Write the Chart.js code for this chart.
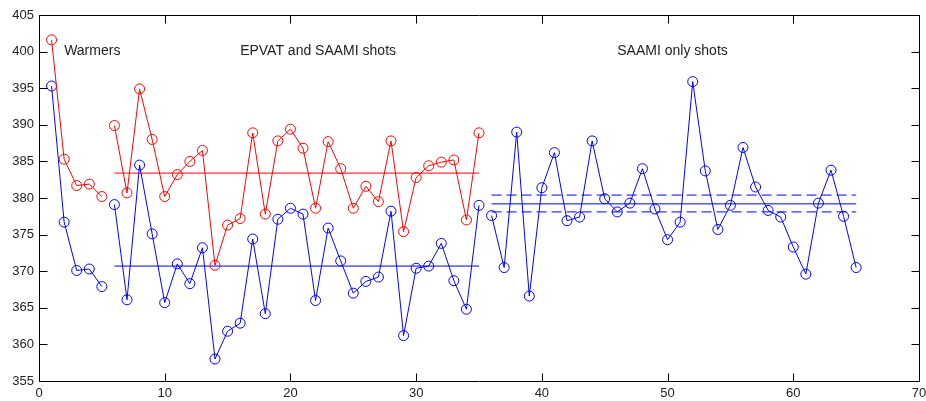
<!DOCTYPE html>
<html>
<head>
<meta charset="utf-8">
<script src="https://cdn.jsdelivr.net/npm/chart.js@4"></script>
<style>
    html, body { margin: 0; padding: 0; background: #fff; }
    canvas { display: block; }
</style>
</head>
<body>
<canvas id="velocityChart" width="926" height="401"></canvas>
<script>
// Номера выстрелов по группам
const warmerShots = [1, 2, 3, 4, 5];
const mainShots = [6, 7, 8, 9, 10, 11, 12, 13, 14, 15, 16, 17, 18, 19, 20,
    21, 22, 23, 24, 25, 26, 27, 28, 29, 30, 31, 32, 33, 34, 35];
const saamiShots = [36, 37, 38, 39, 40, 41, 42, 43, 44, 45, 46, 47, 48, 49, 50,
    51, 52, 53, 54, 55, 56, 57, 58, 59, 60, 61, 62, 63, 64, 65];

// Красная серия
const redWarmers = [401.6, 385.3, 381.7, 381.9, 380.2];
const redMain = [389.9, 380.7, 394.9, 388.0, 380.2, 383.2, 385.0, 386.5, 370.8, 376.3,
    377.2, 388.9, 377.8, 387.8, 389.4, 386.8, 378.6, 387.7, 384.0, 378.6,
    381.6, 379.5, 387.8, 375.4, 382.8, 384.4, 384.9, 385.2, 377.0, 388.9];

// Синяя серия
const blueWarmers = [395.3, 376.7, 370.1, 370.3, 367.9];
const blueMain = [379.1, 366.1, 384.5, 375.1, 365.7, 371.0, 368.3, 373.2, 358.0, 361.8,
    362.9, 374.4, 364.2, 377.1, 378.6, 377.8, 366.0, 375.9, 371.4, 367.0,
    368.6, 369.2, 378.2, 361.2, 370.4, 370.7, 373.8, 368.7, 364.8, 379.0];
const blueSaami = [377.6, 370.5, 389.0, 366.6, 381.4, 386.2, 376.9, 377.4, 387.8, 379.9,
    378.1, 379.3, 384.0, 378.5, 374.3, 376.7, 395.9, 383.7, 375.7, 379.0,
    386.9, 381.5, 378.3, 377.4, 373.3, 369.6, 379.3, 383.8, 377.5, 370.5];

// Средние линии
const redMeanMain = 383.4;
const blueMeanMain = 370.7;
const blueMeanSaami = 379.2;
const blueSaamiBand = [378.1, 380.4];

// Подписи
const annotations = [
    { x: 2, y: 400, text: 'Warmers' },
    { x: 16, y: 400, text: 'EPVAT and SAAMI shots' },
    { x: 46, y: 400, text: 'SAAMI only shots' }
];

const xTicks = [0, 10, 20, 30, 40, 50, 60, 70];
const yTicks = [355, 360, 365, 370, 375, 380, 385, 390, 395, 400, 405];

const RED = '#ff0000';
const BLUE = '#0000ff';
const FONT = '"Liberation Sans", Arial, sans-serif';

function toPoints(xs, ys) {
    return xs.map((x, i) => ({ x: x, y: ys[i] }));
}

function markerSeries(xs, ys, color) {
    return {
        data: toPoints(xs, ys),
        showLine: true,
        borderColor: color,
        borderWidth: 1,
        backgroundColor: 'transparent',
        pointBorderColor: color,
        pointBackgroundColor: 'transparent',
        pointRadius: 5,
        pointHoverRadius: 5,
        pointBorderWidth: 1
    };
}

function levelLine(fromX, toX, value, color, dashed) {
    return {
        data: [{ x: fromX, y: value }, { x: toX, y: value }],
        showLine: true,
        borderColor: color,
        borderWidth: 1,
        borderDash: dashed ? [10, 5] : [],
        pointRadius: 0,
        pointHoverRadius: 0
    };
}

// Рамка с засечками внутрь и текстовые подписи
const framePlugin = {
    id: 'frame',
    afterDraw(chart) {
        const ctx = chart.ctx;
        const area = chart.chartArea;
        const xs = chart.scales.x;
        const ys = chart.scales.y;
        const tick = 8;
        const left = Math.round(area.left) + 0.5;
        const right = Math.round(area.right) + 0.5;
        const top = Math.round(area.top) + 0.5;
        const bottom = Math.round(area.bottom) + 0.5;

        ctx.save();
        ctx.setLineDash([]);
        ctx.globalAlpha = 1;
        ctx.strokeStyle = '#000000';
        ctx.lineWidth = 1;
        ctx.beginPath();
        ctx.moveTo(left, top);
        ctx.lineTo(right, top);
        ctx.lineTo(right, bottom);
        ctx.lineTo(left, bottom);
        ctx.closePath();

        xTicks.forEach(v => {
            const px = Math.round(xs.getPixelForValue(v)) + 0.5;
            ctx.moveTo(px, bottom);
            ctx.lineTo(px, bottom - tick);
            ctx.moveTo(px, top);
            ctx.lineTo(px, top + tick);
        });
        yTicks.forEach(v => {
            const py = Math.round(ys.getPixelForValue(v)) + 0.5;
            ctx.moveTo(left, py);
            ctx.lineTo(left + tick, py);
            ctx.moveTo(right, py);
            ctx.lineTo(right - tick, py);
        });
        ctx.stroke();

        ctx.fillStyle = '#222';
        ctx.font = '14px ' + FONT;
        ctx.textAlign = 'left';
        ctx.textBaseline = 'middle';
        annotations.forEach(a => {
            ctx.fillText(a.text, xs.getPixelForValue(a.x), ys.getPixelForValue(a.y));
        });
        ctx.restore();
    }
};

const datasets = [
    markerSeries(warmerShots, redWarmers, RED),
    markerSeries(mainShots, redMain, RED),
    markerSeries(warmerShots, blueWarmers, BLUE),
    markerSeries(mainShots, blueMain, BLUE),
    markerSeries(saamiShots, blueSaami, BLUE),
    levelLine(mainShots[0], mainShots[mainShots.length - 1], redMeanMain, RED, false),
    levelLine(mainShots[0], mainShots[mainShots.length - 1], blueMeanMain, BLUE, false),
    levelLine(saamiShots[0], saamiShots[saamiShots.length - 1], blueMeanSaami, BLUE, false),
    levelLine(saamiShots[0], saamiShots[saamiShots.length - 1], blueSaamiBand[0], BLUE, true),
    levelLine(saamiShots[0], saamiShots[saamiShots.length - 1], blueSaamiBand[1], BLUE, true)
];

new Chart(document.getElementById('velocityChart'), {
    type: 'scatter',
    data: { datasets: datasets },
    options: {
        responsive: false,
        animation: false,
        devicePixelRatio: 1,
        layout: { padding: { top: 15, right: 7, bottom: 0, left: 0 } },
        plugins: {
            legend: { display: false },
            tooltip: { enabled: false }
        },
        scales: {
            x: {
                type: 'linear',
                min: 0,
                max: 70,
                afterBuildTicks: scale => { scale.ticks = xTicks.map(v => ({ value: v })); },
                afterFit: scale => {
                    scale.height = 20;
                    scale.paddingLeft = 0;
                    scale.paddingRight = 0;
                },
                grid: { display: false, drawTicks: false },
                border: { display: false },
                ticks: { color: '#222', font: { family: FONT, size: 13 }, padding: 5, maxRotation: 0 }
            },
            y: {
                type: 'linear',
                min: 355,
                max: 405,
                afterBuildTicks: scale => { scale.ticks = yTicks.map(v => ({ value: v })); },
                afterFit: scale => {
                    scale.width = 39;
                    scale.paddingTop = 0;
                    scale.paddingBottom = 0;
                },
                grid: { display: false, drawTicks: false },
                border: { display: false },
                ticks: { color: '#222', font: { family: FONT, size: 13 }, padding: 5 }
            }
        }
    },
    plugins: [framePlugin]
});
</script>
</body>
</html>
